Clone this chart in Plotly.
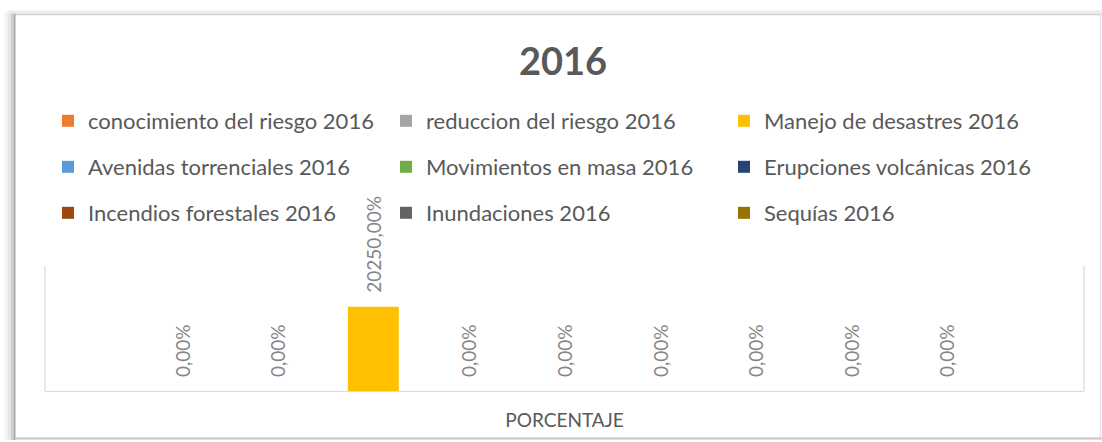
import plotly.graph_objects as go

# ---- data ----
title_text = "2016"
category = ["PORCENTAJE"]
series_names = [
    "conocimiento del riesgo 2016",
    "reduccion del riesgo 2016",
    "Manejo de desastres 2016",
    "Avenidas torrenciales 2016",
    "Movimientos en masa 2016",
    "Erupciones volcánicas 2016",
    "Incendios forestales 2016",
    "Inundaciones 2016",
    "Sequías 2016",
]
series_values = [0.0, 0.0, 202.5, 0.0, 0.0, 0.0, 0.0, 0.0, 0.0]  # fractions (202.5 = 20250,00%)
series_colors = ["#ED7D31", "#A5A5A5", "#FFC000", "#5B9BD5", "#70AD47",
                 "#264478", "#9E480E", "#636363", "#997300"]

W, H = 1102, 442
PL, PR, PT, PB = 45, 1084, 266, 391  # plot area pixel box


def px_x(p):
    return (p - PL) / (PR - PL)


def px_y(p):
    return (PB - p) / (PB - PT)


FONT = "Lato"
legend_ids = ["legend", "legend2", "legend3"]

fig = go.Figure()
for i, (name, val, col) in enumerate(zip(series_names, series_values, series_colors)):
    fig.add_trace(go.Bar(
        x=category, y=[val], name=name,
        marker=dict(color=col, line=dict(width=0)),
        texttemplate="\u00a0\u00a0\u200a%{y:.2%}",
        textposition="outside", textangle=-90, constraintext="none",
        textfont=dict(family=FONT, size=19, color="#858585"),
        cliponaxis=False,
        legend=legend_ids[i // 3],
        hoverinfo="skip",
    ))

legend_rows_y = [121, 167, 213]
legend_common = dict(
    orientation="h", xref="container", yref="container",
    xanchor="left", yanchor="middle",
    entrywidth=293, entrywidthmode="pixels",
    font=dict(family=FONT, size=22, color="#595959"),
    bgcolor="rgba(0,0,0,0)", borderwidth=0,
    itemclick=False, itemdoubleclick=False,
)
legends = {}
for k, lid in enumerate(legend_ids):
    legends[lid] = dict(legend_common, x=48 / W, y=1 - legend_rows_y[k] / H)

shapes = []
# outer frame shadow (left side) and border
for xpos, c, w in [(6, "#f4f4f4", 3), (9, "#e8e8e8", 3), (12, "#d0d0d0", 3), (14.5, "#a8a8a8", 2)]:
    shapes.append(dict(type="line", xref="paper", yref="paper",
                       x0=px_x(xpos), x1=px_x(xpos), y0=px_y(440), y1=px_y(12),
                       line=dict(color=c, width=w)))
shapes.append(dict(type="line", xref="paper", yref="paper",
                   x0=px_x(8), x1=px_x(1102), y0=px_y(12), y1=px_y(12),
                   line=dict(color="#ececec", width=3)))
shapes.append(dict(type="line", xref="paper", yref="paper",
                   x0=px_x(15), x1=px_x(1102), y0=px_y(14.5), y1=px_y(14.5),
                   line=dict(color="#cfcfcf", width=1.5)))
shapes.append(dict(type="line", xref="paper", yref="paper",
                   x0=px_x(15), x1=px_x(1102), y0=px_y(438.5), y1=px_y(438.5),
                   line=dict(color="#c4c4c4", width=2)))
shapes.append(dict(type="line", xref="paper", yref="paper",
                   x0=px_x(1100.5), x1=px_x(1100.5), y0=px_y(14), y1=px_y(438),
                   line=dict(color="#e4e4e4", width=1.5)))
# plot-area sides
for xx in (0, 1):
    shapes.append(dict(type="line", xref="paper", yref="paper",
                       x0=xx, x1=xx, y0=0, y1=1,
                       line=dict(color="#d9d9d9", width=1.2)))

fig.update_layout(
    width=W, height=H,
    margin=dict(l=PL, r=W - PR, t=PT, b=H - PB, pad=0, autoexpand=False),
    paper_bgcolor="white", plot_bgcolor="white",
    separators=",.",
    barmode="group", bargap=0.172, bargroupgap=0.467,
    title=dict(text="<b>" + title_text + "</b>", x=563 / W, xanchor="center",
               y=1 - 62 / H, yanchor="middle", xref="container", yref="container",
               font=dict(family=FONT, size=38, color="#595959")),
    showlegend=True,
    shapes=shapes,
    xaxis=dict(showline=True, linecolor="#d9d9d9", linewidth=1.2, automargin=False,
               showgrid=False, ticks="", ticklabelstandoff=12,
               tickfont=dict(family=FONT, size=19, color="#595959")),
    yaxis=dict(range=[0, 300], visible=False, showgrid=False, zeroline=False,
               automargin=False),
    **legends,
)

fig.write_html("out.html",
               config={"displayModeBar": False},
               post_script="document.body.style.margin='0';document.body.style.overflow='hidden';")
